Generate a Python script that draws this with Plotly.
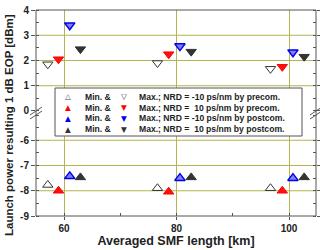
import plotly.graph_objects as go

# ---- data ----
len_open = [57.1, 76.6, 96.7]
len_red = [59.0, 78.6, 98.8]
len_blue = [61.0, 80.6, 100.7]
len_black = [62.9, 82.6, 102.7]

max_open = [1.85, 1.90, 1.67]
max_red = [2.05, 2.25, 1.75]
max_blue = [3.40, 2.57, 2.33]
max_black = [2.45, 2.35, 2.15]

min_open = [-7.77, -7.90, -7.90]
min_red = [-8.00, -8.04, -8.00]
min_blue = [-7.43, -7.50, -7.50]
min_black = [-7.47, -7.47, -7.47]

x_ticks = [60, 80, 100]
y_ticks_top = [0, 1, 2, 3, 4]
y_ticks_bot = [-9, -8, -7, -6]
grid_top = [1, 2, 3]
grid_bot = [-8, -7, -6]

legend_labels = [
    "Max.; NRD = -10 ps/nm by precom.",
    "Max.; NRD =  10 ps/nm by precom.",
    "Max.; NRD = -10 ps/nm by postcom.",
    "Max.; NRD =  10 ps/nm by postcom.",
]
legend_up = ["\u25b3", "\u25b2", "\u25b2", "\u25b2"]
legend_down = ["\u25bd", "\u25bc", "\u25bc", "\u25bc"]
legend_colors = ["#444444", "#ff0000", "#0000ee", "#333333"]

styles = [
    dict(color="white", line=dict(color="#333333", width=1)),
    dict(color="#ff1010", line=dict(color="#ff0000", width=1)),
    dict(color="#8080ff", line=dict(color="#0000ee", width=1.5)),
    dict(color="#333333", line=dict(color="#333333", width=1)),
]

lens = [len_open, len_red, len_blue, len_black]
maxs = [max_open, max_red, max_blue, max_black]
mins = [min_open, min_red, min_blue, min_black]

fig = go.Figure()
for L, mx, mn, st in zip(lens, maxs, mins, styles):
    fig.add_trace(go.Scatter(x=L, y=mx, mode="markers", xaxis="x", yaxis="y",
                             marker=dict(symbol="triangle-down", size=9, **st),
                             showlegend=False, hoverinfo="skip"))
    fig.add_trace(go.Scatter(x=L, y=mn, mode="markers", xaxis="x", yaxis="y2",
                             marker=dict(symbol="triangle-up", size=9, **st),
                             showlegend=False, hoverinfo="skip"))

# ---- manual legend ----
W, H = 280.0, 206.0  # plot area px
def px(xp):
    return (xp - 36) / W
def py(yp):
    return (216 - yp) / H

row_y = [96.5, 107.5, 118.3, 129.0]
shapes = []
annotations = []
shapes.append(dict(type="rect", xref="paper", yref="paper",
                   x0=px(55), x1=px(302), y0=py(136), y1=py(88),
                   fillcolor="white", line=dict(color="#555555", width=1),
                   layer="above"))
lfont = dict(family="Liberation Sans, Arial", size=8.6, color="#222")
for i, lab in enumerate(legend_labels):
    sym_font = dict(family="DejaVu Sans", size=7.5, color=legend_colors[i])
    annotations.append(dict(xref="paper", yref="paper", x=px(67.5), y=py(row_y[i]),
                            text=legend_up[i], showarrow=False, xanchor="center",
                            yanchor="middle", font=sym_font))
    annotations.append(dict(xref="paper", yref="paper", x=px(123.5), y=py(row_y[i]),
                            text=legend_down[i], showarrow=False, xanchor="center",
                            yanchor="middle", font=sym_font))
    annotations.append(dict(xref="paper", yref="paper", x=px(82.5), y=py(row_y[i]),
                            text="<b>Min. &</b>", showarrow=False, xanchor="left",
                            yanchor="middle", font=lfont))
    annotations.append(dict(xref="paper", yref="paper", x=px(136.5), y=py(row_y[i]),
                            text="<b>" + lab + "</b>", showarrow=False, xanchor="left",
                            yanchor="middle", font=lfont))

# gridlines (horizontal)
olive = "#b4b450"
for g in grid_top:
    shapes.append(dict(type="line", xref="paper", yref="y", x0=0, x1=1, y0=g, y1=g,
                       line=dict(color=olive, width=1), layer="below"))
for g in grid_bot:
    shapes.append(dict(type="line", xref="paper", yref="y2", x0=0, x1=1, y0=g, y1=g,
                       line=dict(color=olive, width=1), layer="below"))

# frame
shapes.append(dict(type="rect", xref="paper", yref="paper", x0=0, x1=1, y0=0, y1=1,
                   line=dict(color="#555555", width=1), layer="above"))
# break marks
yb = py(113)
for xc in (0, 1):
    for d in (-2.0, 2.0):
        shapes.append(dict(type="line", xref="paper", yref="paper",
                           x0=xc + (-6) / W, x1=xc + 6 / W,
                           y0=yb + (d - 4) / H, y1=yb + (d + 4) / H,
                           line=dict(color="#555555", width=1), layer="above"))

tickfont = dict(family="Liberation Sans, Arial", size=10, color="#222")
fig.update_layout(
    width=320, height=250,
    margin=dict(l=36, r=4, t=10, b=34),
    paper_bgcolor="white", plot_bgcolor="white",
    showlegend=False,
    xaxis=dict(domain=[0, 1], anchor="y2", range=[55, 104.8],
               tickvals=x_ticks, ticktext=["<b>%d</b>" % v for v in x_ticks],
               ticks="outside", ticklen=3, tickcolor="#555",
               showgrid=True, gridcolor=olive, gridwidth=1, zeroline=False,
               showline=False, tickfont=tickfont,
               minor=dict(dtick=10, tick0=0, ticks="inside", ticklen=3, tickcolor="#555", showgrid=False),
               title=dict(text="<b>Averaged SMF length [km]</b>", standoff=2,
                          font=dict(family="Liberation Sans, Arial", size=12.5, color="#222"))),
    yaxis=dict(domain=[py(113), 1], anchor="x", range=[-0.08, 4],
               tickvals=y_ticks_top, ticktext=["<b>%d</b>" % v for v in y_ticks_top],
               ticks="outside", ticklen=4, tickcolor="#555", showgrid=False, zeroline=False,
               mirror="ticks", showline=False, tickfont=tickfont,
               minor=dict(dtick=0.5, tick0=0, ticks="inside", ticklen=3, tickcolor="#555")),
    yaxis2=dict(domain=[0, py(113)], anchor="x", range=[-9, -4.92],
                tickvals=y_ticks_bot, ticktext=["<b>%d</b>" % v for v in y_ticks_bot],
                ticks="outside", ticklen=4, tickcolor="#555", showgrid=False, zeroline=False,
                mirror="ticks", showline=False, tickfont=tickfont,
                minor=dict(dtick=0.5, tick0=0, ticks="inside", ticklen=3, tickcolor="#555")),
    shapes=shapes,
    annotations=annotations + [
        dict(xref="paper", yref="paper", x=px(9), y=0.5 * (py(0) + py(250)),
             text="<b>Launch power resulting 1 dB EOP [dBm]</b>", textangle=-90,
             showarrow=False, xanchor="center", yanchor="middle",
             font=dict(family="Liberation Sans, Arial", size=11.5, color="#222"))
    ],
)

fig.write_html("out.html")
